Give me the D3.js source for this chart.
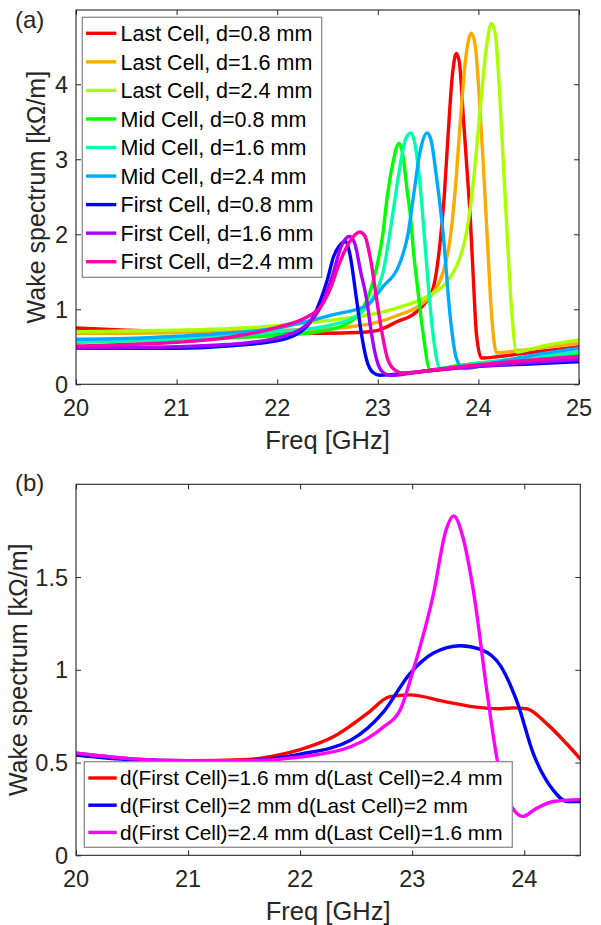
<!DOCTYPE html>
<html><head><meta charset="utf-8">
<script src="https://cdn.jsdelivr.net/npm/d3@7"></script>
<style>
html,body{margin:0;padding:0;background:#fff;}
svg{display:block;font-family:"Liberation Sans",Arial,Helvetica,sans-serif;}
</style></head>
<body>
<svg id="chart" width="601" height="925"></svg>
<script>
// ---------- Panel (a) data ----------
const namesA = ["Last Cell, d=0.8 mm","Last Cell, d=1.6 mm","Last Cell, d=2.4 mm",
  "Mid Cell, d=0.8 mm","Mid Cell, d=1.6 mm","Mid Cell, d=2.4 mm",
  "First Cell, d=0.8 mm","First Cell, d=1.6 mm","First Cell, d=2.4 mm"];
const colorsA = ["#ff0000","#ffaa00","#aaff00","#00ff00","#00ffaa","#00aaff","#0000ff","#aa00ff","#ff00aa"];
const lastCell08 = [[20,0.75],[20.5,0.72],[21,0.70],[21.5,0.69],[22,0.68],[22.5,0.68],[22.8,0.69],[23.0,0.72],[23.2,0.84],[23.35,0.93],[23.45,1.05],[23.55,1.28],[23.62,1.9],[23.66,2.5],[23.70,3.35],[23.74,4.1],[23.78,4.41],[23.81,4.3],[23.85,3.57],[23.89,2.8],[23.92,2.2],[23.95,1.4],[23.98,0.68],[24.03,0.35],[24.2,0.37],[24.5,0.42],[25,0.50]];
const lastCell16 = [[20,0.68],[20.5,0.68],[21,0.69],[21.5,0.70],[22,0.72],[22.5,0.74],[22.8,0.78],[23.0,0.83],[23.2,0.92],[23.4,1.04],[23.55,1.22],[23.65,1.5],[23.72,1.95],[23.77,2.6],[23.82,3.5],[23.87,4.3],[23.93,4.68],[23.97,4.5],[24.01,3.8],[24.05,2.9],[24.09,1.9],[24.13,0.95],[24.18,0.42],[24.4,0.45],[24.7,0.50],[25,0.55]];
const lastCell24 = [[20,0.70],[20.5,0.71],[21,0.72],[21.5,0.74],[22,0.78],[22.5,0.85],[22.89,0.92],[23.22,1.03],[23.49,1.17],[23.72,1.43],[23.82,1.7],[23.88,2.01],[23.95,2.7],[24.02,3.7],[24.08,4.5],[24.13,4.81],[24.17,4.65],[24.21,3.9],[24.25,2.9],[24.29,1.9],[24.33,1.0],[24.38,0.43],[24.6,0.50],[25,0.59]];
const midCell08 = [[20,0.56],[20.5,0.58],[21,0.60],[21.5,0.62],[22,0.65],[22.4,0.70],[22.65,0.78],[22.8,0.92],[22.9,1.15],[22.99,1.57],[23.05,2.0],[23.09,2.46],[23.15,2.95],[23.21,3.21],[23.25,3.05],[23.29,2.6],[23.32,2.3],[23.36,1.7],[23.39,1.35],[23.45,0.68],[23.52,0.19],[23.8,0.25],[24.3,0.32],[25,0.41]];
const midCell16 = [[20,0.57],[20.5,0.58],[21,0.60],[21.5,0.64],[22,0.70],[22.5,0.78],[22.8,0.92],[22.95,1.15],[23.05,1.48],[23.15,2.28],[23.22,2.9],[23.28,3.28],[23.33,3.35],[23.37,3.2],[23.41,2.8],[23.45,2.2],[23.5,1.35],[23.56,0.55],[23.62,0.21],[24.0,0.28],[24.5,0.36],[25,0.43]];
const midCell24 = [[20,0.60],[20.5,0.61],[21,0.64],[21.5,0.68],[22,0.75],[22.56,0.93],[22.89,1.05],[23.05,1.30],[23.22,1.62],[23.3,2.0],[23.35,2.46],[23.42,3.1],[23.49,3.35],[23.53,3.25],[23.58,2.8],[23.65,2.0],[23.72,0.9],[23.78,0.35],[23.85,0.21],[24.2,0.30],[24.6,0.40],[25,0.48]];
const firstCell08 = [[20,0.48],[20.5,0.48],[21,0.48],[21.5,0.51],[22.03,0.59],[22.3,0.78],[22.43,1.12],[22.5,1.4],[22.56,1.70],[22.62,1.85],[22.68,1.90],[22.72,1.75],[22.79,1.12],[22.84,0.65],[22.89,0.32],[22.95,0.16],[23.02,0.12],[23.3,0.15],[23.8,0.22],[24.5,0.27],[25,0.30]];
const firstCell16 = [[20,0.48],[20.5,0.49],[21,0.50],[21.5,0.53],[22,0.62],[22.3,0.80],[22.45,1.08],[22.55,1.45],[22.64,1.85],[22.72,1.97],[22.77,1.88],[22.83,1.5],[22.89,1.12],[22.94,0.65],[22.99,0.32],[23.05,0.16],[23.12,0.12],[23.5,0.18],[24,0.24],[24.5,0.29],[25,0.33]];
const firstCell24 = [[20,0.51],[20.5,0.53],[21,0.56],[21.5,0.62],[22,0.76],[22.3,0.90],[22.43,1.03],[22.52,1.25],[22.62,1.62],[22.72,1.90],[22.82,2.03],[22.87,1.98],[22.93,1.65],[22.99,1.12],[23.04,0.7],[23.09,0.37],[23.16,0.2],[23.25,0.15],[23.6,0.20],[24,0.26],[24.5,0.32],[25,0.37]];
const seriesA = [lastCell08,lastCell16,lastCell24,midCell08,midCell16,midCell24,firstCell08,firstCell16,firstCell24];
const xTicksA = [20,21,22,23,24,25];
const yTicksA = [0,1,2,3,4];

// ---------- Panel (b) data ----------
const namesB = ["d(First Cell)=1.6 mm d(Last Cell)=2.4 mm","d(First Cell)=2 mm d(Last Cell)=2 mm","d(First Cell)=2.4 mm d(Last Cell)=1.6 mm"];
const colorsB = ["#ff0000","#0000ff","#ff00ff"];
const caseRed = [[20,0.55],[20.5,0.52],[21,0.51],[21.5,0.515],[21.8,0.54],[22.0,0.57],[22.3,0.64],[22.6,0.765],[22.8,0.855],[22.98,0.865],[23.28,0.83],[23.55,0.80],[23.79,0.79],[23.9,0.795],[24.02,0.79],[24.2,0.71],[24.38,0.60],[24.5,0.52]];
const caseBlue = [[20,0.54],[20.5,0.515],[21,0.51],[21.5,0.51],[22,0.545],[22.45,0.62],[22.74,0.77],[22.98,0.98],[23.19,1.09],[23.43,1.13],[23.61,1.11],[23.79,1.02],[23.94,0.82],[24.08,0.55],[24.26,0.35],[24.38,0.29],[24.5,0.29]];
const caseMagenta = [[20,0.55],[20.5,0.52],[21,0.51],[21.5,0.51],[22,0.53],[22.45,0.585],[22.74,0.69],[22.89,0.78],[23.01,1.0],[23.19,1.41],[23.3,1.75],[23.37,1.83],[23.45,1.72],[23.55,1.41],[23.67,0.87],[23.76,0.51],[23.89,0.26],[23.99,0.21],[24.1,0.25],[24.26,0.29],[24.5,0.30]];
const seriesB = [caseRed,caseBlue,caseMagenta];
const xTicksB = [20,21,22,23,24];
const yTicksB = [0,0.5,1,1.5];

const svg = d3.select("#chart");
const ink = "#262626";

function panel(cfg){
  const {L,R,T,B,xd,yd,xt,yt,series,colors,names,tag,tagY,legend,clipId,ylabX} = cfg;
  const x = d3.scaleLinear().domain(xd).range([L,R]);
  const y = d3.scaleLinear().domain(yd).range([B,T]);
  svg.append("clipPath").attr("id",clipId).append("rect")
    .attr("x",L).attr("y",T).attr("width",R-L).attr("height",B-T);
  const line = d3.line().x(d=>x(d[0])).y(d=>y(d[1])).curve(d3.curveMonotoneX);
  const g = svg.append("g").attr("clip-path",`url(#${clipId})`);
  series.forEach((s,i)=>{
    g.append("path").attr("d",line(s)).attr("fill","none")
      .attr("stroke",colors[i]).attr("stroke-width",3.4)
      .attr("stroke-linejoin","round").attr("stroke-linecap","round");
  });
  // axes
  const ax = (sel,gen)=>{sel.call(gen); sel.select(".domain").remove(); sel.selectAll("line").attr("stroke",ink); sel.selectAll("text").remove();};
  svg.append("g").attr("transform",`translate(0,${B})`).call(s=>ax(s,d3.axisBottom(x).tickValues(xt).tickSize(-5)));
  svg.append("g").attr("transform",`translate(0,${T})`).call(s=>ax(s,d3.axisTop(x).tickValues(xt).tickSize(-5)));
  svg.append("g").attr("transform",`translate(${L},0)`).call(s=>ax(s,d3.axisLeft(y).tickValues(yt).tickSize(-5)));
  svg.append("g").attr("transform",`translate(${R},0)`).call(s=>ax(s,d3.axisRight(y).tickValues(yt).tickSize(-5)));
  svg.append("rect").attr("x",L).attr("y",T).attr("width",R-L).attr("height",B-T)
    .attr("fill","none").attr("stroke",ink).attr("stroke-width",1.1);
  // tick labels
  svg.append("g").selectAll("text").data(xt).join("text")
    .attr("x",d=>x(d)).attr("y",B+32).attr("text-anchor","middle")
    .attr("font-size",23.5).attr("fill",ink).text(d=>d);
  svg.append("g").selectAll("text").data(yt).join("text")
    .attr("x",L-8).attr("y",d=>y(d)).attr("dy","0.36em").attr("text-anchor","end")
    .attr("font-size",23.5).attr("fill",ink).text(d=>d);
  // axis labels
  svg.append("text").attr("x",(L+R)/2).attr("y",B+65).attr("text-anchor","middle")
    .attr("font-size",25.5).attr("fill",ink).text("Freq [GHz]");
  svg.append("text").attr("transform",`translate(${ylabX},${(T+B)/2}) rotate(-90)`)
    .attr("text-anchor","middle").attr("font-size",25).attr("fill",ink).text("Wake spectrum [kΩ/m]");
  svg.append("text").attr("x",15).attr("y",tagY).attr("font-size",24).attr("fill",ink).text(tag);
  // legend
  const lg = svg.append("g");
  lg.append("rect").attr("x",legend.x).attr("y",legend.y).attr("width",legend.w).attr("height",legend.h)
    .attr("fill","#fff").attr("stroke","#8c8c8c").attr("stroke-width",1.3);
  names.forEach((n,i)=>{
    const cy = legend.row0 + i*legend.dy;
    lg.append("line").attr("x1",legend.lx1).attr("x2",legend.lx2).attr("y1",cy).attr("y2",cy)
      .attr("stroke",colors[i]).attr("stroke-width",3.4);
    lg.append("text").attr("x",legend.tx).attr("y",cy).attr("dy","0.36em")
      .attr("font-size",legend.fs).attr("fill","#000").text(n);
  });
}

panel({L:76,R:579,T:10,B:384.3,xd:[20,25],yd:[0,4.99],xt:xTicksA,yt:yTicksA,
  series:seriesA,colors:colorsA,names:namesA,tag:"(a)",tagY:28,clipId:"ca",ylabX:45,
  legend:{x:82.3,y:17.3,w:239.4,h:260,row0:33.3,dy:28.55,lx1:86,lx2:116.3,tx:120.5,fs:21.5}});
panel({L:76,R:580.3,T:484.3,B:855.3,xd:[20,24.5],yd:[0,2],xt:xTicksB,yt:yTicksB,
  series:seriesB,colors:colorsB,names:namesB,tag:"(b)",tagY:491,clipId:"cb",ylabX:27,
  legend:{x:84.3,y:761.7,w:428,h:85.6,row0:778,dy:27.2,lx1:88.3,lx2:116.7,tx:120,fs:20.8}});
</script>
</body></html>
